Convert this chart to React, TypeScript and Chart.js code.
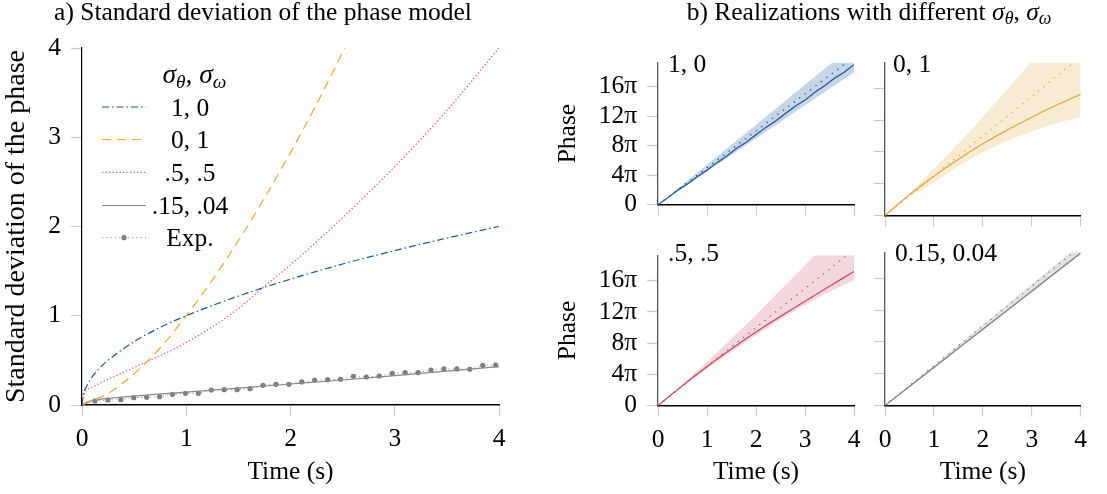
import React, { useEffect, useRef } from "react";
import { Chart, registerables } from "chart.js";

Chart.register(...registerables);

const FONT = "'Liberation Serif', 'Times New Roman', Times, serif";
const FS = 25.5;
Chart.defaults.font.family = FONT;
Chart.defaults.color = "#000";

// ---------------- Panel a) data ----------------
const AXIS_TICKS_A = [0, 1, 2, 3, 4];
const LEGEND_LABELS = ["1, 0", "0, 1", ".5, .5", ".15, .04", "Exp."];

const T_10 = [0, 0.01, 0.04, 0.1, 0.2, 0.35, 0.5, 0.75, 1, 1.5, 2, 2.5, 3, 3.5, 4];
const SD_10 = [0, 0.1, 0.2, 0.32, 0.45, 0.59, 0.71, 0.87, 1.0, 1.22, 1.41, 1.58, 1.73, 1.87, 2.0];

const T_01 = [0, 0.25, 0.5, 0.75, 1, 1.25, 1.5, 1.75, 2, 2.25, 2.52];
const SD_01 = [0, 0.13, 0.35, 0.64, 1.0, 1.4, 1.84, 2.32, 2.83, 3.37, 4.0];

const T_55 = [0, 0.02, 0.1, 0.2, 0.5, 1, 1.5, 1.75, 2, 2.5, 3, 3.5, 4];
const SD_55 = [0, 0.12, 0.2, 0.26, 0.42, 0.7, 1.08, 1.33, 1.57, 2.1, 2.67, 3.3, 4.0];

const T_1504 = [0, 0.05, 0.15, 0.5, 1, 1.5, 2, 2.5, 3, 3.5, 4];
const SD_1504 = [0, 0.035, 0.06, 0.1, 0.145, 0.19, 0.235, 0.28, 0.33, 0.38, 0.43];

const T_EXP = [
  0, 0.124, 0.248, 0.372, 0.496, 0.62, 0.744, 0.868, 0.992, 1.116, 1.24, 1.364,
  1.488, 1.612, 1.736, 1.86, 1.984, 2.108, 2.232, 2.356, 2.48, 2.604, 2.728,
  2.852, 2.976, 3.1, 3.224, 3.348, 3.472, 3.596, 3.72, 3.844, 3.968,
];
const SD_EXP = [
  0, 0.045, 0.056, 0.06, 0.082, 0.086, 0.093, 0.12, 0.131, 0.131, 0.168, 0.172,
  0.172, 0.183, 0.22, 0.232, 0.232, 0.258, 0.28, 0.284, 0.288, 0.321, 0.314,
  0.325, 0.355, 0.362, 0.362, 0.392, 0.404, 0.404, 0.4, 0.445, 0.448,
];

// ---------------- Panel b) data ----------------
const PHASE_TICK_MULT = [0, 4, 8, 12, 16];
const PHASE_TICK_LABELS = ["0", "4π", "8π", "12π", "16π"];
const PANEL_LABELS = ["1, 0", "0, 1", ".5, .5", "0.15, 0.04"];

const T_HALF = [0, 0.5, 1, 1.5, 2, 2.5, 3, 3.5, 4];
const T_QUARTER = [0, 0.25, 0.5, 0.75, 1, 1.25, 1.5, 1.75, 2, 2.25, 2.5, 2.75, 3, 3.25, 3.5, 3.75, 4];
const T_FIFTH = [0, 0.2, 0.4, 0.6, 0.8, 1, 1.2, 1.4, 1.6, 1.8, 2, 2.2, 2.4, 2.6, 2.8, 3, 3.2, 3.4, 3.6, 3.8, 4];

const EXPECTED_PHASE = [0, 7.85, 15.7, 23.6, 31.4, 39.3, 47.1, 55.0, 62.8];

const REAL_10 = [0, 2.9, 6.1, 8.8, 11.9, 14.7, 17.9, 20.6, 23.9, 26.6, 29.8, 32.9, 35.6, 38.8, 41.9, 44.5, 47.8, 50.6, 53.8, 56.4, 59.6];
const UP_10 = [0, 8.5, 17, 25.5, 34, 42.5, 51, 59.5, 68];
const LO_10 = [0, 7.0, 14.1, 21.1, 28.2, 35.2, 42.3, 49.3, 56.4];

const REAL_01 = [0, 4.3, 8.3, 12.0, 15.6, 19.0, 22.3, 25.4, 28.4, 31.2, 33.8, 36.4, 38.9, 41.3, 43.6, 45.8, 48.0];
const UP_01 = [0, 8.8, 18.5, 28.5, 39, 50, 61, 72, 83];
const LO_01 = [0, 7.4, 13.2, 19.5, 25, 29.5, 33.2, 36.5, 39.1];

const REAL_55 = [0, 4.0, 8.0, 11.9, 15.7, 19.3, 22.8, 26.3, 29.6, 32.8, 35.9, 39.0, 42.0, 45.0, 48.0, 51.0, 54.0];
const UP_55 = [0, 8.6, 17.6, 27, 36.5, 46.5, 56.5, 67, 77];
const LO_55 = [0, 7.6, 14.8, 21.6, 28.3, 34.6, 40.6, 45.8, 50.5];

const REAL_1504 = [0, 7.5, 15.0, 22.6, 30.1, 37.6, 45.1, 52.7, 60.2];
const UP_1504 = [0, 7.95, 15.9, 23.9, 31.9, 39.9, 47.9, 55.8, 63.8];
const LO_1504 = [0, 7.4, 14.8, 22.3, 29.7, 37.2, 44.6, 52.1, 59.5];

// ---------------- helpers ----------------
const zip = (xs: number[], ys: number[]) => xs.map((x, i) => ({ x, y: ys[i] }));

type Seg = { t: string; it?: boolean; sub?: boolean };
function drawMath(ctx: CanvasRenderingContext2D, segs: Seg[], x: number, y: number, align: "left" | "center", size: number) {
  const sub = size * 0.7;
  const fontOf = (s: Seg) => `${s.it ? "italic " : ""}${s.sub ? sub : size}px ${FONT}`;
  let w = 0;
  for (const s of segs) {
    ctx.font = fontOf(s);
    w += ctx.measureText(s.t).width;
  }
  let cx = align === "center" ? x - w / 2 : x;
  ctx.textAlign = "left";
  ctx.textBaseline = "alphabetic";
  ctx.fillStyle = "#000";
  for (const s of segs) {
    ctx.font = fontOf(s);
    ctx.fillText(s.t, cx, y + (s.sub ? size * 0.2 : 0));
    cx += ctx.measureText(s.t).width;
  }
}

const TICK_COLOR = "#cccccc";

function leftConfig(): any {
  const lineBase = { pointRadius: 0, fill: false, cubicInterpolationMode: "monotone" };
  const datasets: any[] = [
    { ...lineBase, data: zip(T_10, SD_10), borderColor: "#1f57a0", borderWidth: 1.2, borderDash: [7, 3, 1.5, 3] },
    { ...lineBase, data: zip(T_01, SD_01), borderColor: "#e6a93a", borderWidth: 1.2, borderDash: [9, 6] },
    { ...lineBase, data: zip(T_55, SD_55), borderColor: "#d65f7b", borderWidth: 1.3, borderDash: [1.3, 2.2] },
    { ...lineBase, data: zip(T_1504, SD_1504), borderColor: "#8a8a8a", borderWidth: 1.2 },
    {
      data: zip(T_EXP, SD_EXP), borderColor: "#9a9a9a", borderWidth: 1, borderDash: [1.3, 3],
      pointRadius: 2.6, pointBackgroundColor: "#7f7f7f", pointBorderWidth: 0, fill: false,
    },
  ];
  const legendPlugin = {
    id: "legendA",
    afterDraw(chart: any) {
      const ctx: CanvasRenderingContext2D = chart.ctx;
      ctx.save();
      drawMath(ctx, [{ t: "σ", it: true }, { t: "θ", it: true, sub: true }, { t: ", " }, { t: "σ", it: true }, { t: "ω", it: true, sub: true }], 194.5, 82.5, "center", 27.5);
      const rows = [107, 139.5, 172.3, 205.5, 237.7];
      chart.data.datasets.forEach((ds: any, i: number) => {
        const y = rows[i];
        ctx.save();
        ctx.strokeStyle = ds.borderColor;
        ctx.lineWidth = ds.borderWidth;
        ctx.setLineDash(ds.borderDash || []);
        ctx.beginPath();
        ctx.moveTo(102, y);
        ctx.lineTo(146, y);
        ctx.stroke();
        if (ds.pointRadius > 0) {
          ctx.fillStyle = ds.pointBackgroundColor;
          ctx.beginPath();
          ctx.arc(124, y, ds.pointRadius, 0, Math.PI * 2);
          ctx.fill();
        }
        ctx.restore();
        ctx.font = `${FS}px ${FONT}`;
        ctx.fillStyle = "#000";
        ctx.textAlign = "center";
        ctx.textBaseline = "alphabetic";
        ctx.fillText(LEGEND_LABELS[i], 190, y + 8.6);
      });
      ctx.restore();
    },
  };
  return {
    type: "line",
    data: { datasets },
    options: {
      responsive: false,
      animation: false,
      events: [],
      layout: { padding: { left: 0, top: 48, right: 41, bottom: 0 } },
      plugins: { legend: { display: false }, tooltip: { enabled: false } },
      scales: {
        x: {
          type: "linear", min: 0, max: 4,
          afterBuildTicks: (s: any) => { s.ticks = AXIS_TICKS_A.map((v) => ({ value: v })); },
          ticks: { font: { size: FS }, color: "#000", padding: 8 },
          grid: { drawOnChartArea: false, drawTicks: true, tickLength: 11, tickColor: TICK_COLOR, tickWidth: 1.2 },
          border: { display: true, color: "#000", width: 1.4 },
          title: { display: true, text: "Time (s)", font: { size: FS }, color: "#000", padding: { top: 0, bottom: 6 } },
          afterFit: (s: any) => { s.height = 89; },
        },
        y: {
          type: "linear", min: 0, max: 4,
          afterBuildTicks: (s: any) => { s.ticks = AXIS_TICKS_A.map((v) => ({ value: v })); },
          ticks: { font: { size: FS }, color: "#000", padding: 10 },
          grid: { drawOnChartArea: false, drawTicks: true, tickLength: 11, tickColor: TICK_COLOR, tickWidth: 1.2 },
          border: { display: true, color: "#000", width: 1.2 },
          title: { display: true, text: "Standard deviation of the phase", font: { size: 28 }, color: "#000", padding: { top: 0, bottom: 0 } },
          afterFit: (s: any) => { s.width = 82; },
        },
      },
    },
    plugins: [legendPlugin],
  };
}

type Panel = {
  realT: number[]; real: number[]; up: number[]; lo: number[];
  color: string; band: string; label: string;
  left: number; top: number; w: number; h: number;
  yWidth: number; xHeight: number; padTop: number; padRight: number;
  showY: boolean; showX: boolean; labelX: number; labelY: number;
};

const PANELS: Panel[] = [
  { realT: T_FIFTH, real: REAL_10, up: UP_10, lo: LO_10, color: "#1a4f94", band: "#c7d6e7", label: PANEL_LABELS[0],
    left: 540, top: 30, w: 330, h: 200, yWidth: 118, xHeight: 14.4, padTop: 32.5, padRight: 16, showY: true, showX: false, labelX: 128, labelY: 41.7 },
  { realT: T_QUARTER, real: REAL_01, up: UP_01, lo: LO_01, color: "#e3a331", band: "#f7ebd3", label: PANEL_LABELS[1],
    left: 870, top: 30, w: 237, h: 200, yWidth: 15, xHeight: 14.4, padTop: 32.5, padRight: 26.3, showY: false, showX: false, labelX: 23, labelY: 41.7 },
  { realT: T_QUARTER, real: REAL_55, up: UP_55, lo: LO_55, color: "#c84a63", band: "#f2d7dd", label: PANEL_LABELS[2],
    left: 540, top: 230, w: 330, h: 264, yWidth: 118, xHeight: 88.5, padTop: 22.3, padRight: 16, showY: true, showX: true, labelX: 128, labelY: 30.7 },
  { realT: T_HALF, real: REAL_1504, up: UP_1504, lo: LO_1504, color: "#808080", band: "#e2e2e2", label: PANEL_LABELS[3],
    left: 870, top: 230, w: 237, h: 264, yWidth: 15, xHeight: 88.5, padTop: 22.3, padRight: 26.3, showY: false, showX: true, labelX: 25, labelY: 31 },
];

function panelConfig(p: Panel): any {
  const datasets: any[] = [
    { data: zip(p.realT, p.real), borderColor: p.color, borderWidth: 1.2, pointRadius: 0, fill: false },
    { data: zip(T_HALF, EXPECTED_PHASE), borderColor: p.color, borderWidth: 1.3, borderDash: [1.3, 5.5], pointRadius: 0, fill: false },
    { data: zip(T_HALF, p.up), borderWidth: 0, borderColor: "rgba(0,0,0,0)", backgroundColor: p.band, pointRadius: 0, fill: "+1", cubicInterpolationMode: "monotone" },
    { data: zip(T_HALF, p.lo), borderWidth: 0, borderColor: "rgba(0,0,0,0)", pointRadius: 0, fill: false, cubicInterpolationMode: "monotone" },
  ];
  const labelPlugin = {
    id: "panelLabel",
    afterDraw(chart: any) {
      const ctx: CanvasRenderingContext2D = chart.ctx;
      ctx.save();
      ctx.font = `${FS}px ${FONT}`;
      ctx.fillStyle = "#000";
      ctx.textAlign = "left";
      ctx.textBaseline = "alphabetic";
      ctx.fillText(p.label, p.labelX, p.labelY);
      ctx.restore();
    },
  };
  return {
    type: "line",
    data: { datasets },
    options: {
      responsive: false,
      animation: false,
      events: [],
      layout: { padding: { left: 0, top: p.padTop, right: p.padRight, bottom: 0 } },
      plugins: { legend: { display: false }, tooltip: { enabled: false } },
      scales: {
        x: {
          type: "linear", min: 0, max: 4,
          afterBuildTicks: (s: any) => { s.ticks = AXIS_TICKS_A.map((v) => ({ value: v })); },
          ticks: { display: p.showX, font: { size: FS }, color: "#000", padding: 8 },
          grid: { drawOnChartArea: false, drawTicks: true, tickLength: 11, tickColor: TICK_COLOR, tickWidth: 1.2 },
          border: { display: true, color: "#000", width: 1.4 },
          title: { display: p.showX, text: "Time (s)", font: { size: FS }, color: "#000", padding: { top: 0, bottom: 6 } },
          afterFit: (s: any) => { s.height = p.xHeight; },
        },
        y: {
          type: "linear", min: 0, max: 60.5,
          afterBuildTicks: (s: any) => { s.ticks = PHASE_TICK_MULT.map((m) => ({ value: m * Math.PI })); },
          ticks: { display: p.showY, font: { size: FS }, color: "#000", padding: 10, callback: (_v: any, i: number) => PHASE_TICK_LABELS[i] },
          grid: { drawOnChartArea: false, drawTicks: true, tickLength: 11, tickColor: TICK_COLOR, tickWidth: 1.2 },
          border: { display: true, color: "#555", width: 1.3 },
          title: { display: p.showY, text: "Phase", font: { size: FS }, color: "#000", padding: { top: 12.7, bottom: 0 } },
          afterFit: (s: any) => { s.width = p.yWidth; },
        },
      },
    },
    plugins: [labelPlugin],
  };
}

const subStyle: React.CSSProperties = { fontSize: "0.7em", verticalAlign: "-0.25em", lineHeight: 0 };

export default function App() {
  const refA = useRef<HTMLCanvasElement>(null);
  const r0 = useRef<HTMLCanvasElement>(null);
  const r1 = useRef<HTMLCanvasElement>(null);
  const r2 = useRef<HTMLCanvasElement>(null);
  const r3 = useRef<HTMLCanvasElement>(null);
  const panelRefs = [r0, r1, r2, r3];

  useEffect(() => {
    const charts: Chart[] = [];
    charts.push(new Chart(refA.current as HTMLCanvasElement, leftConfig()));
    PANELS.forEach((p, i) => {
      charts.push(new Chart(panelRefs[i].current as HTMLCanvasElement, panelConfig(p)));
    });
    return () => charts.forEach((c) => c.destroy());
  }, []);

  const titleStyle = (cx: number): React.CSSProperties => ({
    position: "absolute", left: cx, top: -2.6, transform: "translateX(-50%)", whiteSpace: "nowrap",
    fontFamily: FONT, fontSize: FS, lineHeight: "30px", color: "#000",
  });

  return (
    <div style={{ position: "absolute", left: 0, top: 0, width: 1107, height: 494, background: "#fff", overflow: "hidden" }}>
      <canvas ref={refA} width={540} height={494} style={{ position: "absolute", left: 0, top: 0 }} />
      {PANELS.map((p, i) => (
        <canvas key={i} ref={panelRefs[i]} width={p.w} height={p.h} style={{ position: "absolute", left: p.left, top: p.top }} />
      ))}
      <div style={titleStyle(263)}>a) Standard deviation of the phase model</div>
      <div style={titleStyle(869)}>
        b) Realizations with different <i>σ</i><sub style={subStyle}><i>θ</i></sub>, <i>σ</i><sub style={subStyle}><i>ω</i></sub>
      </div>
    </div>
  );
}
